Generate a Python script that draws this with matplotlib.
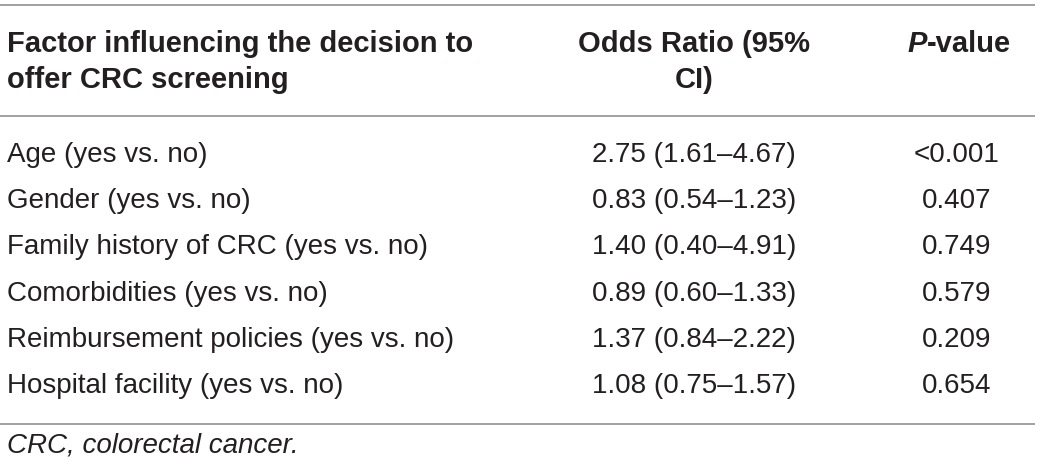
import matplotlib
matplotlib.use("Agg")
import matplotlib.pyplot as plt

factors = [
    "Age (yes vs. no)",
    "Gender (yes vs. no)",
    "Family history of CRC (yes vs. no)",
    "Comorbidities (yes vs. no)",
    "Reimbursement policies (yes vs. no)",
    "Hospital facility (yes vs. no)",
]
odds_ratios = [
    "2.75 (1.61\u20134.67)",
    "0.83 (0.54\u20131.23)",
    "1.40 (0.40\u20134.91)",
    "0.89 (0.60\u20131.33)",
    "1.37 (0.84\u20132.22)",
    "1.08 (0.75\u20131.57)",
]
p_values = ["<0.001", "0.407", "0.749", "0.579", "0.209", "0.654"]
footnote = "CRC, colorectal cancer."

plt.rcParams['font.family'] = ['Liberation Sans', 'DejaVu Sans']
txt = "#231f20"
rule = "#9a9a9a"
fs = 20
fs_head = 21
col_or = 694
col_p = 957

fig = plt.figure(figsize=(10.4, 4.71), dpi=100)
ax = fig.add_axes([0, 0, 1, 1])
ax.set_xlim(0, 1040)
ax.set_ylim(471, 0)
ax.axis("off")

# horizontal rules
for y in [5, 116, 424]:
    ax.plot([0, 1035], [y, y], color=rule, lw=1.3, solid_capstyle="butt")

# header
ax.text(7, 52, "Factor influencing the decision to", fontsize=fs_head,
        fontweight="bold", color=txt, va="baseline", ha="left")
ax.text(7, 88, "offer CRC screening", fontsize=fs_head, fontweight="bold",
        color=txt, va="baseline", ha="left")
ax.text(col_or, 52, "Odds Ratio (95%", fontsize=fs_head, fontweight="bold",
        color=txt, va="baseline", ha="center")
ax.text(col_or, 88, "CI)", fontsize=fs_head, fontweight="bold",
        color=txt, va="baseline", ha="center")

# "P-value" header: italic P followed by upright "-value"
p_txt = ax.text(907, 52, "P", fontsize=fs_head, fontweight="bold",
                fontstyle="italic", color=txt, va="baseline", ha="left")
fig.canvas.draw()
bb = p_txt.get_window_extent()
x_end = ax.transData.inverted().transform((bb.x1, bb.y0))[0]
ax.text(x_end + 1, 52, "-value", fontsize=fs_head, fontweight="bold",
        color=txt, va="baseline", ha="left")

# body rows
row_y0 = 162
row_dy = 46.2
for i, (f, o, p) in enumerate(zip(factors, odds_ratios, p_values)):
    y = row_y0 + i * row_dy
    ax.text(7, y, f, fontsize=fs, color=txt, va="baseline", ha="left")
    ax.text(col_or, y, o, fontsize=fs, color=txt, va="baseline", ha="center")
    ax.text(col_p, y, p, fontsize=fs, color=txt, va="baseline", ha="center")

ax.text(7, 453, footnote, fontsize=fs, fontstyle="italic", color=txt,
        va="baseline", ha="left")

fig.savefig("out.png", dpi=100)
